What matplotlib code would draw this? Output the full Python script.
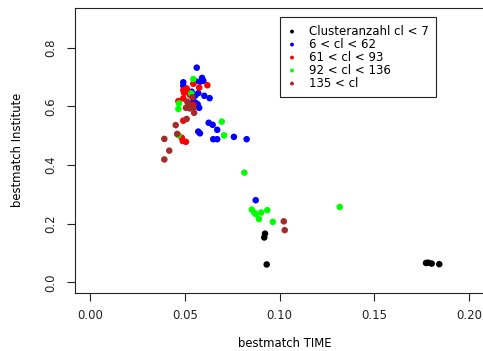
import matplotlib
matplotlib.use("Agg")
import matplotlib.pyplot as plt

plt.rcParams['font.family'] = ['DejaVu Sans']

# bestmatch TIME / bestmatch Institute per cluster-size group
black_x = [0.0923, 0.0919, 0.0932, 0.1772, 0.1784, 0.1802, 0.1842]
black_y = [0.166, 0.153, 0.061, 0.066, 0.067, 0.064, 0.062]

blue_x = [0.0563, 0.0492, 0.0492, 0.0591, 0.0580, 0.0598, 0.0555, 0.0536, 0.0571,
          0.0554, 0.0603, 0.0631, 0.0545, 0.0557, 0.0568, 0.0576, 0.0626, 0.0647,
          0.0671, 0.0571, 0.0580, 0.0650, 0.0671, 0.0759, 0.0826, 0.0874, 0.0517]
blue_y = [0.732, 0.682, 0.670, 0.697, 0.684, 0.687, 0.686, 0.650, 0.645,
          0.636, 0.636, 0.628, 0.616, 0.612, 0.607, 0.595, 0.544, 0.537,
          0.520, 0.514, 0.508, 0.488, 0.488, 0.496, 0.488, 0.280, 0.650]

red_x = [0.0545, 0.0619, 0.0576, 0.0510, 0.0492, 0.0496, 0.0513, 0.0527, 0.0492,
         0.0466, 0.0545, 0.0492, 0.0484, 0.0489, 0.0506]
red_y = [0.677, 0.672, 0.664, 0.661, 0.655, 0.646, 0.653, 0.639, 0.627,
         0.618, 0.605, 0.551, 0.493, 0.482, 0.479]

green_x = [0.0545, 0.0534, 0.0469, 0.0466, 0.0695, 0.0466, 0.0707, 0.0814,
           0.0853, 0.0867, 0.0874, 0.0903, 0.0935, 0.0891, 0.0964, 0.1317]
green_y = [0.693, 0.644, 0.610, 0.591, 0.548, 0.502, 0.501, 0.374,
           0.248, 0.237, 0.233, 0.238, 0.246, 0.216, 0.206, 0.257]

brown_x = [0.0540, 0.0513, 0.0518, 0.0506, 0.0527, 0.0545, 0.0549, 0.0510,
           0.0452, 0.0460, 0.0392, 0.0418, 0.0392, 0.1022, 0.1027]
brown_y = [0.631, 0.616, 0.610, 0.595, 0.593, 0.595, 0.578, 0.557,
           0.536, 0.506, 0.489, 0.449, 0.419, 0.208, 0.178]

labels = ["Clusteranzahl cl < 7", "6 < cl < 62", "61 < cl < 93",
          "92 < cl < 136", "135 < cl"]
colors = ["#000000", "#0000FF", "#FF0000", "#00FF00", "#A52A2A"]

x_ticks = [0.00, 0.05, 0.10, 0.15, 0.20]
y_ticks = [0.0, 0.2, 0.4, 0.6, 0.8]

fig = plt.figure(figsize=(4.83, 3.51), dpi=100)
ax = fig.add_axes([0.1549, 0.1655, 0.8480, 0.8123])

groups = [(black_x, black_y), (blue_x, blue_y), (red_x, red_y),
          (green_x, green_y), (brown_x, brown_y)]
for (gx, gy), c, lab in zip(groups, colors, labels):
    ax.scatter(gx, gy, s=22, c=c, edgecolors='none', label=lab, zorder=3)

ax.set_xlim(-0.008, 0.208)
ax.set_ylim(-0.036, 0.936)
ax.set_xticks(x_ticks)
ax.set_xticklabels([f"{v:.2f}" for v in x_ticks])
ax.set_yticks(y_ticks)
ax.set_yticklabels([f"{v:.1f}" for v in y_ticks], rotation=90, va='center')

ax.tick_params(direction='out', length=5.5, width=0.8, labelsize=8.5,
               colors='#222222')
ax.tick_params(axis='x', pad=6)
ax.tick_params(axis='y', pad=7)
for sp in ax.spines.values():
    sp.set_linewidth(0.8)
    sp.set_color('#222222')

ax.set_xlabel("bestmatch TIME", fontsize=8.4)
ax.set_ylabel("bestmatch Institute", fontsize=8.4)
ax.xaxis.set_label_coords(0.513, -0.155)
ax.yaxis.set_label_coords(-0.125, 0.5)

leg = ax.legend(loc='upper left', bbox_to_anchor=(0.501, 0.9677),
                borderaxespad=0, fancybox=False, edgecolor='#222222',
                fontsize=8.5, markerscale=0.6, handletextpad=1.08,
                labelspacing=0.0, borderpad=0.65, handlelength=0.73,
                scatterpoints=1, framealpha=1)
leg.get_frame().set_linewidth(0.8)

fig.savefig("out.png", dpi=100)
